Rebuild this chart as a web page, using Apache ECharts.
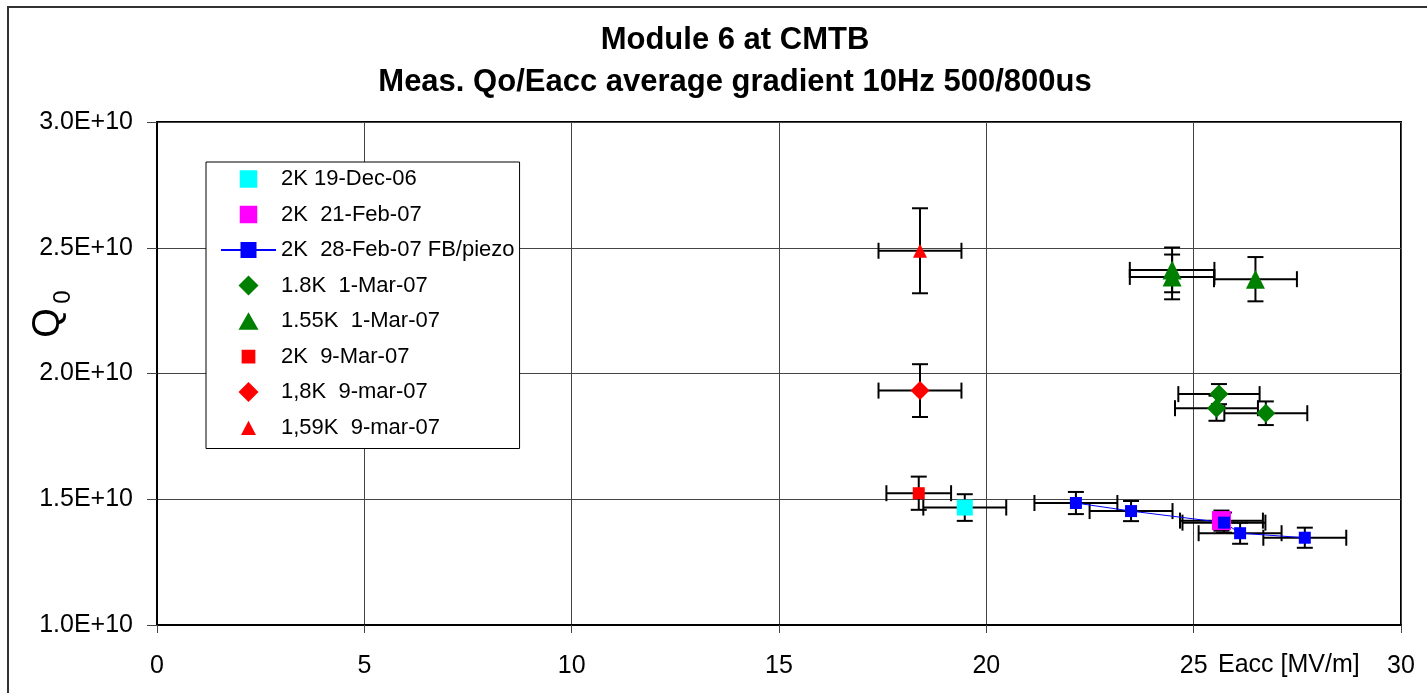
<!DOCTYPE html>
<html>
<head>
<meta charset="utf-8">
<script src="https://cdn.jsdelivr.net/npm/echarts@6/dist/echarts.min.js"></script>
<style>
html,body{margin:0;padding:0;background:#fff;}
#chart{width:1427px;height:693px;}
</style>
</head>
<body>
<div id="chart"></div>
<script>
// ---- Data (x = Eacc [MV/m], y = Q0, with error bars) ----
const seriesNames = ["2K 19-Dec-06", "2K  21-Feb-07", "2K  28-Feb-07 FB/piezo", "1.8K  1-Mar-07", "1.55K  1-Mar-07", "2K  9-Mar-07", "1,8K  9-mar-07", "1,59K  9-mar-07"];

const dec19X = [19.48];
const dec19Y = [1.467e10];
const dec19XErr = [1.0];
const dec19YErr = [0.053e10];

const feb21X = [25.67];
const feb21Y = [1.415e10];
const feb21XErr = [1.0];
const feb21YErr = [0.04e10];

const feb28X = [22.16, 23.49, 25.73, 26.12, 27.68];
const feb28Y = [1.485e10, 1.453e10, 1.407e10, 1.365e10, 1.347e10];
const feb28XErr = [1.0, 1.0, 1.0, 1.0, 1.0];
const feb28YErr = [0.044e10, 0.04e10, 0.04e10, 0.042e10, 0.04e10];

const mar1_18X = [25.61, 25.55, 26.74];
const mar1_18Y = [1.918e10, 1.862e10, 1.842e10];
const mar1_18XErr = [0.98, 1.0, 1.0];
const mar1_18YErr = [0.04e10, 0.05e10, 0.047e10];

const mar1_155X = [24.48, 24.48, 26.49];
const mar1_155Y = [2.412e10, 2.384e10, 2.375e10];
const mar1_155XErr = [1.02, 1.02, 1.0];
const mar1_155YErr = [0.089e10, 0.089e10, 0.088e10];

const mar9_2X = [18.37];
const mar9_2Y = [1.524e10];
const mar9_2XErr = [0.78];
const mar9_2YErr = [0.066e10];

const mar9_18X = [18.40];
const mar9_18Y = [1.932e10];
const mar9_18XErr = [1.0];
const mar9_18YErr = [0.105e10];

const mar9_159X = [18.40];
const mar9_159Y = [2.488e10];
const mar9_159XErr = [1.0];
const mar9_159YErr = [0.169e10];

const xTicks = [0, 5, 10, 15, 20, 25, 30];
const yTicks = [1.0e10, 1.5e10, 2.0e10, 2.5e10, 3.0e10];

// ---- build ----
const FONT = "'Liberation Sans', Arial, sans-serif";
// legend icon shapes (16x16 box; bare "M x,y Z" points only fix the box size)
const ICON_SQ = 'path://M0,0ZM16,16ZM1,1L15,1L15,15L1,15Z';
const ICON_SQ_SMALL = 'path://M0,0ZM16,16ZM2.5,2.5L13.5,2.5L13.5,13.5L2.5,13.5Z';
const ICON_DIA = 'path://M8,0L16,8L8,16L0,8Z';
const ICON_TRI = 'path://M0,0ZM16,16ZM8,1L16,15L0,15Z';
const ICON_TRI_SMALL = 'path://M0,0ZM16,16ZM8,2.5L14,14L2,14Z';

const groups = [
  {name: seriesNames[0], x: dec19X, y: dec19Y, xe: dec19XErr, ye: dec19YErr, color: '#00FFFF', symbol: 'rect', size: 16, line: false, icon: ICON_SQ},
  {name: seriesNames[1], x: feb21X, y: feb21Y, xe: feb21XErr, ye: feb21YErr, color: '#FF00FF', symbol: 'rect', size: 19, line: false, icon: ICON_SQ},
  {name: seriesNames[2], x: feb28X, y: feb28Y, xe: feb28XErr, ye: feb28YErr, color: '#0000FF', symbol: 'rect', size: 12, line: true, icon: null},
  {name: seriesNames[3], x: mar1_18X, y: mar1_18Y, xe: mar1_18XErr, ye: mar1_18YErr, color: '#008000', symbol: 'diamond', size: 19, line: false, icon: ICON_DIA},
  {name: seriesNames[4], x: mar1_155X, y: mar1_155Y, xe: mar1_155XErr, ye: mar1_155YErr, color: '#008000', symbol: 'triangle', size: 19, line: false, icon: ICON_TRI},
  {name: seriesNames[5], x: mar9_2X, y: mar9_2Y, xe: mar9_2XErr, ye: mar9_2YErr, color: '#FF0000', symbol: 'rect', size: 12, line: false, icon: ICON_SQ_SMALL},
  {name: seriesNames[6], x: mar9_18X, y: mar9_18Y, xe: mar9_18XErr, ye: mar9_18YErr, color: '#FF0000', symbol: 'diamond', size: 19, line: false, icon: ICON_DIA},
  {name: seriesNames[7], x: mar9_159X, y: mar9_159Y, xe: mar9_159XErr, ye: mar9_159YErr, color: '#FF0000', symbol: 'triangle', size: 14, line: false, icon: ICON_TRI_SMALL}
];

const errData = [];
groups.forEach(g => g.x.forEach((xv, i) => errData.push([xv, g.y[i], g.xe[i], g.ye[i]])));

function renderErr(params, api) {
  const x = api.value(0), y = api.value(1), xe = api.value(2), ye = api.value(3);
  const c = api.coord([x, y]);
  const l = api.coord([x - xe, y]), r = api.coord([x + xe, y]);
  const t = api.coord([x, y + ye]), b = api.coord([x, y - ye]);
  const cap = 8;
  const st = {stroke: '#000', lineWidth: 2};
  return {
    type: 'group',
    children: [
      {type: 'line', shape: {x1: l[0], y1: c[1], x2: r[0], y2: c[1]}, style: st},
      {type: 'line', shape: {x1: l[0], y1: c[1] - cap, x2: l[0], y2: c[1] + cap}, style: st},
      {type: 'line', shape: {x1: r[0], y1: c[1] - cap, x2: r[0], y2: c[1] + cap}, style: st},
      {type: 'line', shape: {x1: c[0], y1: t[1], x2: c[0], y2: b[1]}, style: st},
      {type: 'line', shape: {x1: c[0] - cap, y1: t[1], x2: c[0] + cap, y2: t[1]}, style: st},
      {type: 'line', shape: {x1: c[0] - cap, y1: b[1], x2: c[0] + cap, y2: b[1]}, style: st}
    ]
  };
}

const series = [{
  type: 'custom',
  name: 'errorbars',
  renderItem: renderErr,
  data: errData,
  encode: {x: 0, y: 1},
  z: 2,
  silent: true
}];

groups.forEach(g => {
  const data = g.x.map((xv, i) => [xv, g.y[i]]);
  if (g.line) {
    series.push({
      type: 'line', name: g.name, data: data, symbol: g.symbol, symbolSize: g.size,
      showSymbol: true, itemStyle: {color: g.color}, lineStyle: {color: g.color, width: 1},
      z: 3, animation: false
    });
  } else {
    series.push({
      type: 'scatter', name: g.name, data: data, symbol: g.symbol, symbolSize: g.size,
      symbolKeepAspect: true,
      itemStyle: {color: g.color, opacity: 1}, z: 3, animation: false
    });
  }
});

const legendData = groups.map(g => g.icon ? {name: g.name, icon: g.icon, symbolKeepAspect: true} : {name: g.name});

const chart = echarts.init(document.getElementById('chart'), null, {renderer: 'canvas'});
chart.setOption({
  animation: false,
  backgroundColor: '#fff',
  textStyle: {fontFamily: FONT, color: '#000'},
  title: {
    text: 'Module 6 at CMTB\nMeas. Qo/Eacc average gradient 10Hz 500/800us',
    left: 730, top: 14, textAlign: 'center',
    textStyle: {fontFamily: FONT, fontSize: 31, fontWeight: 'bold', color: '#000', lineHeight: 42}
  },
  grid: {left: 157, top: 122, right: 26, bottom: 68, show: true, borderColor: '#000', borderWidth: 2, containLabel: false},
  legend: {
    data: legendData,
    orient: 'vertical',
    left: 206, top: 162,
    padding: [6, 5, 10, 14],
    itemGap: 13.5,
    itemWidth: 55, itemHeight: 20,
    symbolKeepAspect: true,
    backgroundColor: '#fff',
    borderColor: '#000', borderWidth: 1, borderRadius: 0,
    textStyle: {fontFamily: FONT, fontSize: 22, color: '#000', lineHeight: 22},
    selectedMode: false
  },
  xAxis: {
    type: 'value', min: xTicks[0], max: xTicks[xTicks.length - 1], interval: 5,
    axisLine: {show: true, onZero: false, lineStyle: {color: '#000', width: 2}},
    axisTick: {show: true, length: 8, lineStyle: {color: '#444', width: 1}},
    axisLabel: {fontFamily: FONT, fontSize: 25, color: '#000', margin: 29},
    splitLine: {show: true, lineStyle: {color: '#444', width: 1}}
  },
  yAxis: {
    type: 'value', min: yTicks[0], max: yTicks[yTicks.length - 1], interval: 0.5e10,
    axisLine: {show: true, lineStyle: {color: '#000', width: 2}},
    axisTick: {show: true, length: 10, lineStyle: {color: '#444', width: 1}},
    axisLabel: {fontFamily: FONT, fontSize: 25, color: '#000', margin: 24,
      formatter: v => (v / 1e10).toFixed(1) + 'E+10'},
    splitLine: {show: true, lineStyle: {color: '#444', width: 1}}
  },
  graphic: [
    {type: 'rect', shape: {x: 8, y: 7, width: 1460, height: 720}, style: {fill: null, stroke: '#333', lineWidth: 2}, silent: true, z: -1},
    {type: 'text', x: 49, y: 323, rotation: Math.PI / 2, style: {text: 'Q', fontFamily: FONT, fontSize: 38, fill: '#000', align: 'center', verticalAlign: 'middle'}},
    {type: 'text', x: 63, y: 297, rotation: Math.PI / 2, style: {text: '0', fontFamily: FONT, fontSize: 24, fill: '#000', align: 'center', verticalAlign: 'middle'}},
    {type: 'text', x: 1218, y: 665, style: {text: 'Eacc [MV/m]', fontFamily: FONT, fontSize: 25, fill: '#000', align: 'left', verticalAlign: 'middle'}}
  ],
  series: series
});
</script>
</body>
</html>
